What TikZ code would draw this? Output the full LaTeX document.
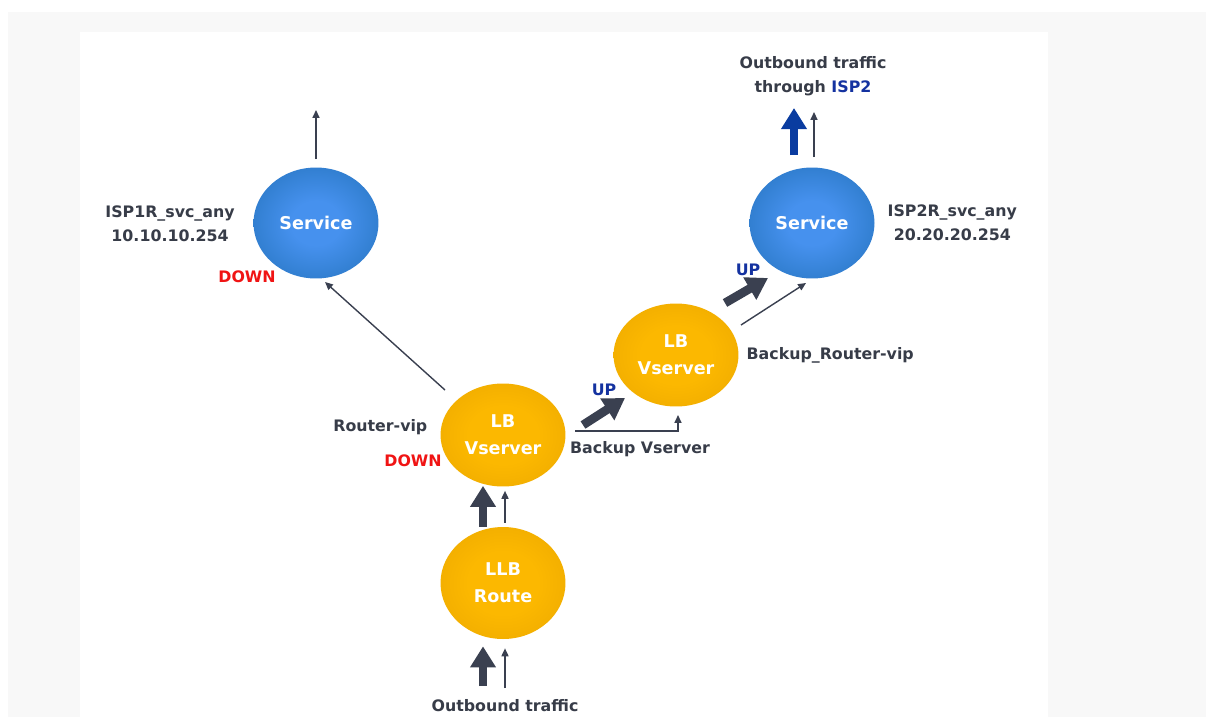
\documentclass[tikz,border=0pt]{standalone}
\usepackage{fontspec}
\setmainfont{DejaVu Sans}
\usetikzlibrary{shapes.geometric, arrows.meta, positioning}

\definecolor{fondo}{RGB}{248,248,248}
\definecolor{texto}{RGB}{55,60,72}
\definecolor{flechaosc}{RGB}{58,64,80}
\definecolor{azulosc}{RGB}{10,60,160}
\definecolor{azulup}{RGB}{20,50,160}
\definecolor{rojodown}{RGB}{240,20,20}
\definecolor{svcin}{RGB}{70,145,238}
\definecolor{svcout}{RGB}{22,102,168}
\definecolor{lbin}{RGB}{252,184,0}
\definecolor{lbout}{RGB}{228,160,0}

\pgfdeclareradialshading{svcshade}{\pgfpoint{0bp}{0bp}}{color(0bp)=(svcin); color(10bp)=(svcin); color(46bp)=(svcout); color(50bp)=(svcout)}
\pgfdeclareradialshading{lbshade}{\pgfpoint{0bp}{0bp}}{color(0bp)=(lbin); color(14bp)=(lbin); color(46bp)=(lbout); color(50bp)=(lbout)}

\begin{document}
\begin{tikzpicture}[
    x=0.02cm, y=-0.02cm,
    % Estilos de nodos
    base/.style = {ellipse, minimum width=2.5cm, align=center, text=white, inner sep=0pt, font=\fontsize{10}{15.5}\selectfont\bfseries},
    servicio/.style = {base, shading=svcshade, minimum height=2.22cm},
    vserver/.style = {base, shading=lbshade, minimum height=2.06cm},
    etiqueta/.style = {text=texto, align=center, inner sep=0pt, font=\fontsize{9}{13.6}\selectfont\bfseries},
    estado_up/.style = {etiqueta, text=azulup},
    estado_down/.style = {etiqueta, text=rojodown},
    flecha/.style = {line width=0.8pt, color=flechaosc, -{Triangle[length=4.5pt, width=4pt]}},
    flecha_gruesa/.style = {line width=5pt, color=flechaosc, -{Triangle[length=12pt, width=14pt]}},
    flecha_isp/.style = {flecha_gruesa, color=azulosc}
]

% ===============================
% 0. Fondo
% ===============================
\fill[fondo] (8,12) rectangle (1206,717);
\fill[white] (80,32) rectangle (1048,717);
\useasboundingbox (0,0) rectangle (1206,717);

% ===============================
% 1. Nodos
% ===============================
\node (svcA) [servicio] at (316,223) {Service};
\node (svcB) [servicio] at (812,223) {Service};
\node (lbmain) [vserver] at (503,435) {LB\\Vserver};
\node (lbbackup) [vserver] at (676,355) {LB\\Vserver};
\node (llb) [vserver, minimum height=2.24cm] at (503,583) {LLB\\Route};

% ===============================
% 2. Etiquetas
% ===============================
\node (ispAtxt) [etiqueta] at (170,224) {ISP1R\_svc\_any\\10.10.10.254};
\node (ispBtxt) [etiqueta, right=0.25cm of svcB] {ISP2R\_svc\_any\\20.20.20.254};
\node (salida) [etiqueta] at (813,76) {Outbound traffic\\through {\color{azulup}ISP2}};
\node (routertxt) [etiqueta, left=0.25cm of lbmain, yshift=0.16cm] {Router-vip};
\node (backuptxt) [etiqueta, right=0.15cm of lbbackup] {Backup\_Router-vip};
\node (bkpvs) [etiqueta] at (640,449) {Backup Vserver};
\node (downA) [estado_down] at (247,277) {DOWN};
\node (downMain) [estado_down] at (413,461) {DOWN};
\node (upMain) [estado_up] at (604,390) {UP};
\node (upB) [estado_up] at (748,270) {UP};
\node (entrada) [etiqueta] at (505,706) {Outbound traffic};

\coordinate (topA) at (316,110);
\coordinate (topB) at (812,108);
\coordinate (src) at (503,692);

% ===============================
% 3. Flechas
% ===============================
\draw [flecha] ([yshift=0.16cm]svcA.north) -- (topA);
\draw [flecha_isp] ([shift={(-18,-12)}]svcB.north) -- ([shift={(-18,0)}]topB);
\draw [flecha] ([shift={(2,-10)}]svcB.north) -- ([shift={(2,4)}]topB);

\draw [flecha] ([shift={(-58,-45)}]lbmain.center) -- ([shift={(9,59)}]svcA.center);
\draw [flecha_gruesa] ([shift={(80,-10)}]lbmain.center) -- ([shift={(-51,43)}]lbbackup.center);
\draw [flecha] ([shift={(72,-4)}]lbmain.center) -| ([shift={(2,60)}]lbbackup.center);
\draw [flecha_gruesa] ([shift={(49,-52)}]lbbackup.center) -- ([shift={(-44,55)}]svcB.center);
\draw [flecha] ([shift={(65,-30)}]lbbackup.center) -- ([shift={(-6,60)}]svcB.center);

\draw [flecha_gruesa] ([shift={(-20,0)}]llb.north) -- ([shift={(-20,-1)}]lbmain.south);
\draw [flecha] ([shift={(2,-4)}]llb.north) -- ([shift={(2,4)}]lbmain.south);
\draw [flecha_gruesa] ([shift={(-20,-6)}]src) -- ([shift={(-20,7)}]llb.south);
\draw [flecha] ([shift={(2,-4)}]src) -- ([shift={(2,9)}]llb.south);

\end{tikzpicture}
\end{document}
